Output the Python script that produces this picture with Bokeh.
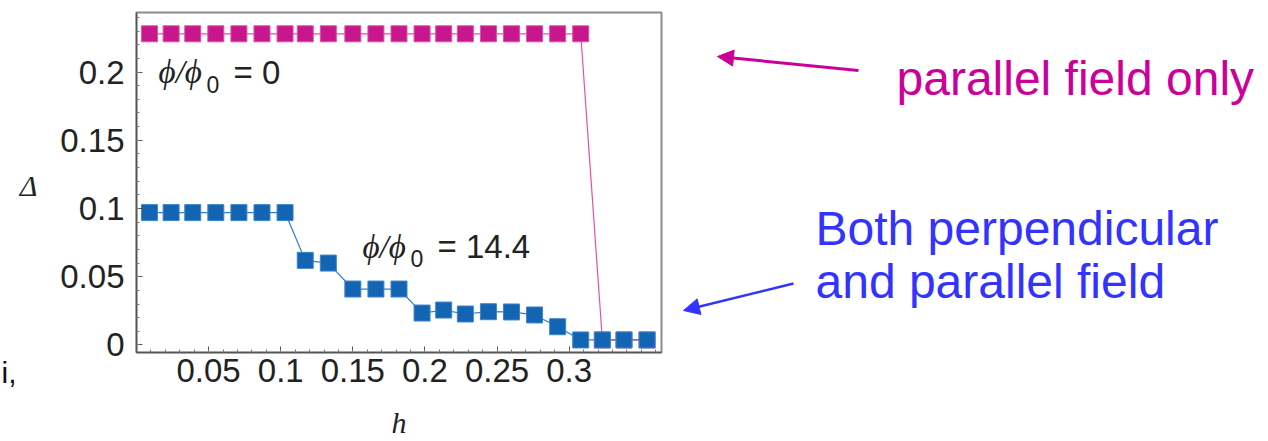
from bokeh.plotting import figure
from bokeh.layouts import row
from bokeh.models import Range1d, FixedTicker, Label, Arrow, NormalHead, ColumnDataSource, Title
from bokeh.embed import file_html
from bokeh.resources import INLINE

# ---- data ----
h = [0.009, 0.024, 0.039, 0.055, 0.071, 0.087, 0.103, 0.117, 0.133, 0.150, 0.166, 0.182,
     0.198, 0.213, 0.228, 0.244, 0.260, 0.276, 0.292, 0.308, 0.323, 0.338, 0.354]
delta_perp = [0.097, 0.097, 0.097, 0.097, 0.097, 0.097, 0.097, 0.062, 0.060, 0.041, 0.041, 0.041,
              0.0234, 0.0256, 0.0227, 0.0244, 0.0242, 0.022, 0.0134, 0.0037, 0.0037, 0.0037, 0.0037]
delta_par = [0.228, 0.228, 0.228, 0.228, 0.228, 0.228, 0.228, 0.228, 0.228, 0.228, 0.228, 0.228,
             0.228, 0.228, 0.228, 0.228, 0.228, 0.228, 0.228, 0.228, 0.0037, 0.0037, 0.0037]
x_ticks = [0.05, 0.1, 0.15, 0.2, 0.25, 0.3]
x_tick_labels = ["0.05", "0.1", "0.15", "0.2", "0.25", "0.3"]
y_ticks = [0, 0.05, 0.1, 0.15, 0.2]
y_tick_labels = ["0", "0.05", "0.1", "0.15", "0.2"]

MAGENTA = "#C8168C"
BLUE = "#1464B4"
TXT = "#222222"

src = ColumnDataSource(dict(h=h, perp=delta_perp, par=delta_par))


def blank(width, x0, x1):
    # side strips: the row aligns their frame with the chart's frame (page y 12..352),
    # so page pixels map directly onto their ranges
    f = figure(width=width, height=441, output_backend="svg", toolbar_location=None,
               x_range=Range1d(x0, x1), y_range=Range1d(352, 12),
               x_axis_location=None, y_axis_location=None, min_border=0)
    f.grid.visible = False
    f.outline_line_color = None
    f.background_fill_color = "white"
    f.border_fill_color = "white"
    return f


# ---- left strip: axis name and cut-off slide text ----
left = blank(50, 0, 50)
left.add_layout(Label(x=28, y=185, text="Δ", text_font="Liberation Serif", text_font_style="italic",
                      text_font_size="30px", text_align="center", text_baseline="middle", text_color=TXT))
left.add_layout(Title(text="i,", align="left", offset=1, standoff=2, text_font="Liberation Sans",
                      text_font_style="normal", text_font_size="30px", text_color="#111111"), "below")

# ---- main chart ----
p = figure(width=615, height=441, output_backend="svg", toolbar_location=None,
           x_range=Range1d(0, 0.364), y_range=Range1d(-0.0055, 0.2436),
           min_border_left=86, min_border_right=4, min_border_top=12, min_border_bottom=89)
p.grid.visible = False
p.background_fill_color = "white"
p.border_fill_color = "white"
p.outline_line_color = "#8c8c8c"
p.outline_line_width = 2

p.xaxis.ticker = FixedTicker(ticks=x_ticks, minor_ticks=[round(i * 0.01, 2) for i in range(0, 37)])
p.yaxis.ticker = FixedTicker(ticks=y_ticks, minor_ticks=[round(i * 0.01, 2) for i in range(0, 25)])
p.xaxis.major_label_overrides = {t: l for t, l in zip(x_ticks, x_tick_labels)}
p.yaxis.major_label_overrides = {t: l for t, l in zip(y_ticks, y_tick_labels)}
for ax in (p.xaxis, p.yaxis):
    ax.axis_line_color = "#555555"
    ax.axis_line_width = 1.5
    ax.major_tick_in = 6
    ax.major_tick_out = 0
    ax.minor_tick_in = 3
    ax.minor_tick_out = 0
    ax.major_tick_line_color = "#555555"
    ax.minor_tick_line_color = "#777777"
    ax.major_label_text_font = "Liberation Sans"
    ax.major_label_text_font_size = "33px"
    ax.major_label_text_color = TXT
p.xaxis.major_label_standoff = 6
p.yaxis.major_label_standoff = 12
p.xaxis.axis_label = "h"
p.xaxis.axis_label_text_font = "Liberation Serif"
p.xaxis.axis_label_text_font_style = "italic"
p.xaxis.axis_label_text_font_size = "30px"
p.xaxis.axis_label_text_color = TXT
p.xaxis.axis_label_standoff = 21

# parallel field only
p.line("h", "par", source=src, line_color="#E8509E", line_width=1.2)
p.scatter("h", "par", source=src, marker="square", size=16, fill_color=MAGENTA, line_color="#E050A8", line_width=1)
# perpendicular + parallel
p.line("h", "perp", source=src, line_color="#3A7CC0", line_width=1.2)
p.scatter("h", "perp", source=src, marker="square", size=16, fill_color=BLUE, line_color="#3C86CC", line_width=1)


def phi_label(x, y, rest):
    p.add_layout(Label(x=x, y=y, text="ϕ/ϕ", text_font="Liberation Serif", text_font_style="italic",
                       text_font_size="33px", text_baseline="middle", text_color=TXT))
    p.add_layout(Label(x=x, y=y, x_offset=48, y_offset=-12, text="0", text_font="Liberation Sans",
                       text_font_size="23px", text_baseline="middle", text_color=TXT))
    p.add_layout(Label(x=x, y=y, x_offset=75, text=rest, text_font="Liberation Sans",
                       text_font_size="33px", text_baseline="middle", text_color=TXT))


phi_label(0.0153, 0.2, "= 0")
phi_label(0.1567, 0.0718, "= 14.4")

# ---- right strip: annotations in page pixels ----
right = blank(603, 665, 1268)
right.add_layout(Label(x=896, y=78, text="parallel field only", text_font="Liberation Sans",
                       text_font_size="48px", text_baseline="middle", text_color="#CC0099"))
right.add_layout(Label(x=815, y=228, text="Both perpendicular", text_font="Liberation Sans",
                       text_font_size="48px", text_baseline="middle", text_color="#3333FF"))
right.add_layout(Label(x=815, y=281, text="and parallel field", text_font="Liberation Sans",
                       text_font_size="48px", text_baseline="middle", text_color="#3333FF"))
right.add_layout(Arrow(end=NormalHead(size=16, fill_color="#CC0099", line_color="#CC0099"),
                       x_start=858, y_start=70, x_end=717, y_end=56,
                       line_color="#CC0099", line_width=3))
right.add_layout(Arrow(end=NormalHead(size=16, fill_color="#3333FF", line_color="#3333FF"),
                       x_start=793, y_start=283, x_end=683, y_end=310,
                       line_color="#3333FF", line_width=2.5))

layout = row(left, p, right)
open("out.html", "w").write(file_html(layout, INLINE))
